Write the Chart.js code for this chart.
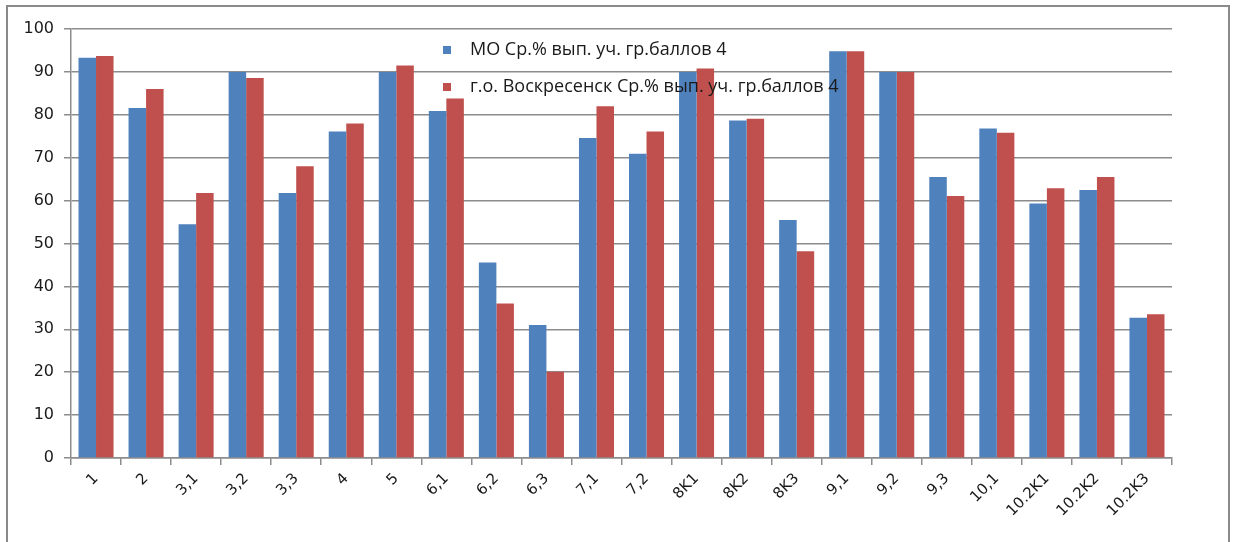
<!DOCTYPE html>
<html lang="ru">
<head>
    <meta charset="UTF-8">
    <title>Ср.% выполнения</title>
    <script src="https://cdn.jsdelivr.net/npm/chart.js"></script>
    <style>
        html, body { margin: 0; padding: 0; background: #fff; overflow: hidden; }
        .frame {
            position: absolute; left: 6px; top: 5px; width: 1224px; height: 600px;
            border: 2px solid #8a8a8a; box-sizing: border-box;
        }
        canvas { position: absolute; left: 0; top: 0; }
    </style>
</head>
<body>
    <div class="frame"></div>
    <canvas id="chart" width="1235" height="542"></canvas>

    <script>
        // categories (task numbers)
        var categories = ['1', '2', '3,1', '3,2', '3,3', '4', '5', '6,1', '6,2', '6,3', '7,1', '7,2',
            '8K1', '8K2', '8K3', '9,1', '9,2', '9,3', '10,1', '10.2K1', '10.2K2', '10.2K3'];

        var moValues = [93.3, 81.6, 54.5, 90.0, 61.8, 76.1, 90.0, 80.9, 45.6, 31.0, 74.6, 70.9,
            90.0, 78.7, 55.5, 94.8, 90.0, 65.5, 76.8, 59.3, 62.5, 32.7];
        var voskValues = [93.7, 86.0, 61.8, 88.6, 68.0, 78.0, 91.5, 83.8, 36.0, 20.1, 82.0, 76.1,
            90.8, 79.1, 48.2, 94.8, 90.0, 61.1, 75.8, 62.9, 65.5, 33.5];

        var yTicks = [0, 10, 20, 30, 40, 50, 60, 70, 80, 90, 100];

        var gridColor = '#8c8c8c';

        // legend sits inside the plot, over the bars, like the Excel one
        var innerLegend = {
            id: 'innerLegend',
            afterDraw: function(chart) {
                var ctx = chart.ctx;
                var x = 443, y = 50, rowGap = 37;
                ctx.save();
                ctx.font = '18px "Open Sans", sans-serif';
                ctx.textBaseline = 'middle';
                chart.data.datasets.forEach(function(ds, i) {
                    var yy = y + i * rowGap;
                    ctx.fillStyle = ds.backgroundColor;
                    ctx.fillRect(x, yy - 4, 8, 8);
                    ctx.fillStyle = '#1a1a1a';
                    ctx.fillText(ds.label, x + 27, yy);
                });
                ctx.restore();
            }
        };

        var ctx = document.getElementById('chart').getContext('2d');
        var chart = new Chart(ctx, {
            type: 'bar',
            data: {
                labels: categories,
                datasets: [{
                    label: 'МО Ср.% вып. уч. гр.баллов 4',
                    data: moValues,
                    backgroundColor: '#4f81bd'
                }, {
                    label: 'г.о. Воскресенск Ср.% вып. уч. гр.баллов 4',
                    data: voskValues,
                    backgroundColor: '#c0504d'
                }]
            },
            options: {
                responsive: false,
                animation: false,
                categoryPercentage: 0.7,
                barPercentage: 1.0,
                layout: { padding: { left: 0, right: 63, top: 29, bottom: 0 } },
                plugins: {
                    legend: { display: false },
                    tooltip: { enabled: false }
                },
                scales: {
                    x: {
                        grid: {
                            offset: true,
                            drawOnChartArea: false,
                            tickLength: 7,
                            color: gridColor,
                            lineWidth: 1.5
                        },
                        border: { color: gridColor, width: 1.5 },
                        ticks: {
                            maxRotation: 45,
                            minRotation: 45,
                            autoSkip: false,
                            padding: 5,
                            color: '#1a1a1a',
                            font: { family: '"DejaVu Sans", Verdana, sans-serif', size: 15 }
                        },
                        afterFit: function(scale) { scale.height = 84; }
                    },
                    y: {
                        min: 0,
                        max: 100,
                        afterBuildTicks: function(scale) {
                            scale.ticks = yTicks.map(function(v) { return { value: v }; });
                        },
                        grid: {
                            tickLength: 7,
                            color: gridColor,
                            lineWidth: 1.5
                        },
                        border: { color: gridColor, width: 1.5 },
                        ticks: {
                            padding: 10,
                            color: '#1a1a1a',
                            font: { family: '"DejaVu Sans", Verdana, sans-serif', size: 16 }
                        },
                        afterFit: function(scale) { scale.width = 71; }
                    }
                }
            },
            plugins: [innerLegend]
        });
    </script>
</body>
</html>
